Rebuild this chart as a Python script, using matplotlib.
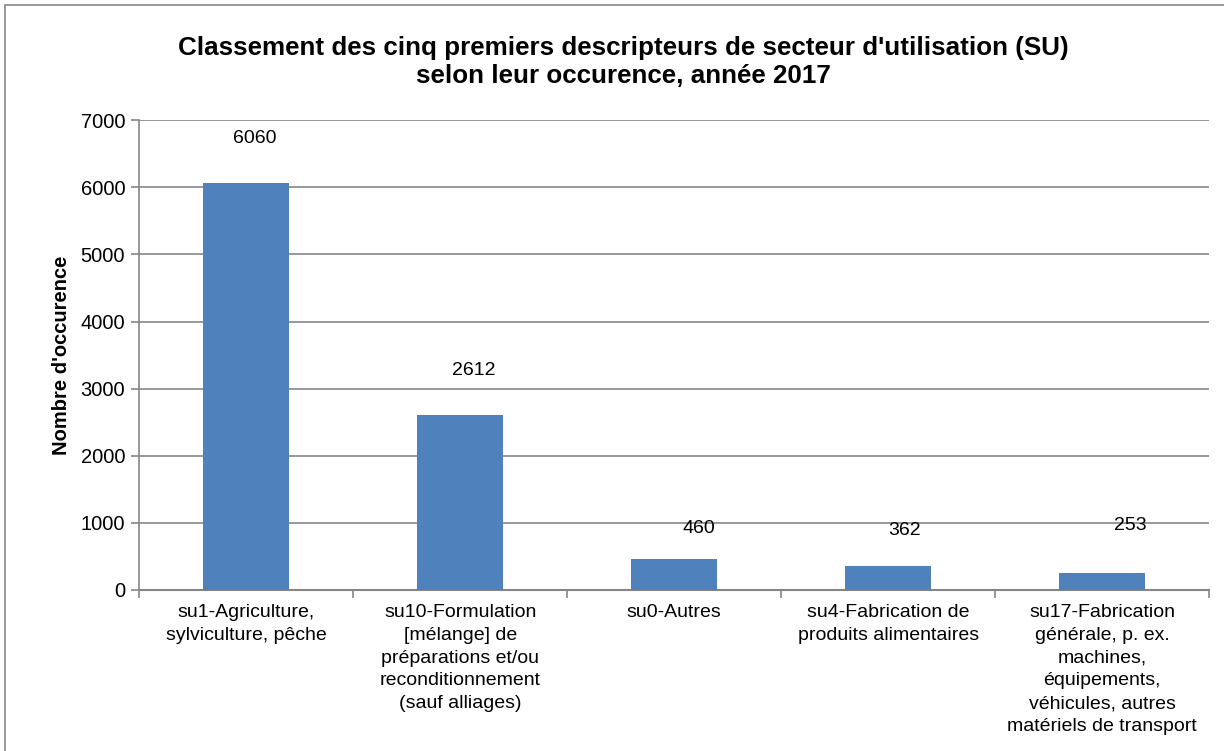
import matplotlib.pyplot as plt
import numpy as np
from matplotlib.patches import Rectangle

plt.rcParams['font.family'] = ['Liberation Sans', 'DejaVu Sans']

categories = [
    "su1-Agriculture,\nsylviculture, pêche",
    "su10-Formulation\n[mélange] de\npréparations et/ou\nreconditionnement\n(sauf alliages)",
    "su0-Autres",
    "su4-Fabrication de\nproduits alimentaires",
    "su17-Fabrication\ngénérale, p. ex.\nmachines,\néquipements,\nvéhicules, autres\nmatériels de transport",
]
values = [6060, 2612, 460, 362, 253]
yticks = [0, 1000, 2000, 3000, 4000, 5000, 6000, 7000]

# label offsets (points) as in the original, they float above the bars
lab_dx = [6, 10, 18, 12, 20]
lab_dy = [32, 32, 22, 25, 34]

fig = plt.figure(figsize=(12.24, 7.51), dpi=100)
ax = fig.add_axes([0.1136, 0.2144, 0.8744, 0.6256])

x = np.arange(len(values))
ax.bar(x, values, width=0.4, color='#4f81bd', zorder=3)
for i, v in enumerate(values):
    ax.annotate(str(v), (x[i], v), xytext=(lab_dx[i], lab_dy[i]), textcoords='offset points',
                ha='center', va='center', fontsize=14)

ax.set_xlim(-0.5, len(values) - 0.5)
ax.set_ylim(0, 7000)
ax.set_yticks(yticks)
ax.set_yticklabels([str(t) for t in yticks], fontsize=14.5)
ax.yaxis.grid(True, color='#868686', linewidth=1.2, zorder=0)
ax.set_xticks(x)
ax.set_xticklabels(categories, fontsize=14, va='top', linespacing=1.45)
ax.tick_params(axis='x', length=0, pad=10)
ax.set_xticks(np.arange(-0.5, len(values)), minor=True)
ax.tick_params(axis='x', which='minor', length=6, color='#868686', width=1.2)
ax.tick_params(axis='y', length=6, color='#868686', width=1.2, pad=4)
for s in ['top', 'right']:
    ax.spines[s].set_visible(False)
ax.spines['left'].set_color('#868686')
ax.spines['bottom'].set_color('#868686')
ax.spines['left'].set_linewidth(1.2)
ax.spines['bottom'].set_linewidth(1.5)

ax.set_ylabel("Nombre d'occurence", fontsize=14.5, fontweight='bold', labelpad=7)

fig.text(0.509, 0.917, "Classement des cinq premiers descripteurs de secteur d'utilisation (SU)\nselon leur occurence, année 2017",
         ha='center', va='center', fontsize=18.7, fontweight='bold', linespacing=1.22)

fig.patches.append(Rectangle((0.004, -0.01), 1.5, 1.004, transform=fig.transFigure,
                             fill=False, edgecolor='#868686', linewidth=1.2))

fig.savefig('out.png', dpi=100)
